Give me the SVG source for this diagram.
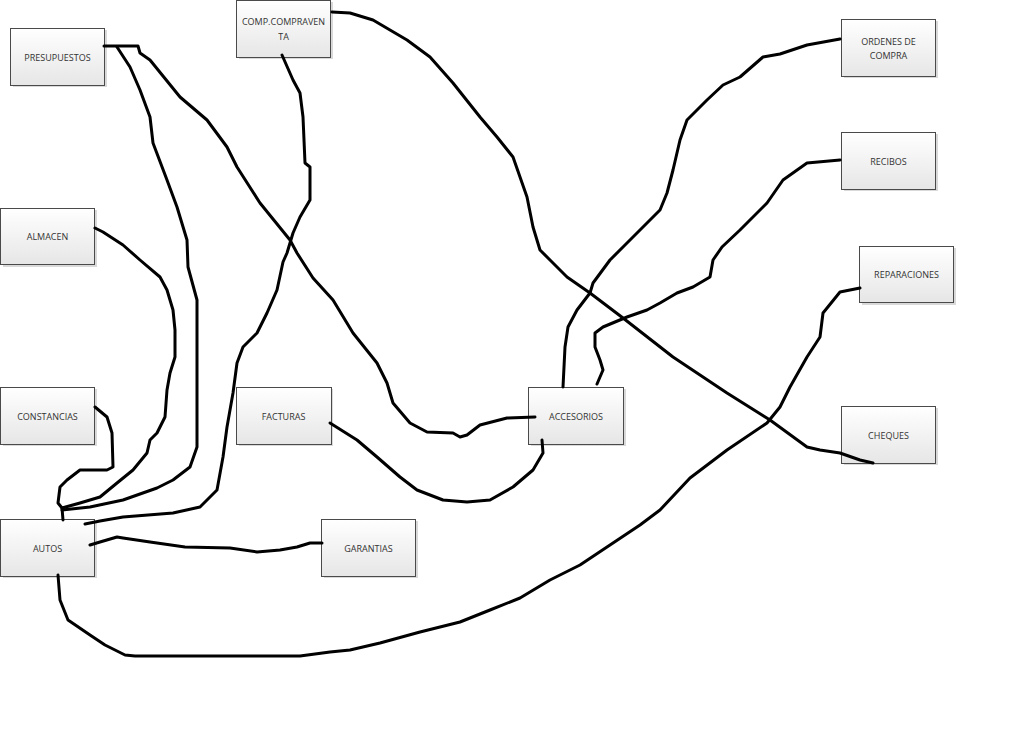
<svg xmlns="http://www.w3.org/2000/svg" width="1028" height="736" viewBox="0 0 1028 736">
<defs>
<linearGradient id="g" x1="0" y1="0" x2="0" y2="1">
<stop offset="0" stop-color="#ffffff"/>
<stop offset="1" stop-color="#e6e6e6"/>
</linearGradient>
<style>
.sh{fill:#d9d9d9}
.bx{fill:url(#g);stroke:#4a4a4a;stroke-width:1}
.t{font-family:"Open Sans","Liberation Sans",sans-serif;font-size:9px;fill:#333;text-anchor:middle;dominant-baseline:central}
.c{fill:none;stroke:#000;stroke-width:3;stroke-linejoin:round;stroke-linecap:round}
</style>
</defs>
<rect width="1028" height="736" fill="#fff"/>
<g id="n-presupuestos"><rect class="sh" x="13" y="30" width="94" height="57"/><rect class="bx" x="10.5" y="28.5" width="94" height="57"/><text class="t" x="57.5" y="57">PRESUPUESTOS</text></g>
<g id="n-comp"><rect class="sh" x="239" y="2" width="94" height="57"/><rect class="bx" x="236.5" y="0.5" width="94" height="57"/><text class="t" x="283.5" y="21">COMP.COMPRAVEN</text><text class="t" x="283.5" y="36">TA</text></g>
<g id="n-ordenes"><rect class="sh" x="844" y="21" width="94" height="57"/><rect class="bx" x="841.5" y="19.5" width="94" height="57"/><text class="t" x="888.5" y="41">ORDENES DE</text><text class="t" x="888.5" y="55">COMPRA</text></g>
<g id="n-recibos"><rect class="sh" x="844" y="134" width="94" height="57"/><rect class="bx" x="841.5" y="132.5" width="94" height="57"/><text class="t" x="888.5" y="161">RECIBOS</text></g>
<g id="n-reparaciones"><rect class="sh" x="862" y="248" width="94" height="57"/><rect class="bx" x="859.5" y="246.5" width="94" height="56"/><text class="t" x="906.5" y="274">REPARACIONES</text></g>
<g id="n-cheques"><rect class="sh" x="844" y="408" width="94" height="57"/><rect class="bx" x="841.5" y="406.5" width="94" height="57"/><text class="t" x="888.5" y="435">CHEQUES</text></g>
<g id="n-almacen"><rect class="sh" x="3" y="210" width="94" height="57"/><rect class="bx" x="0.5" y="208.5" width="94" height="56"/><text class="t" x="47.5" y="236">ALMACEN</text></g>
<g id="n-constancias"><rect class="sh" x="3" y="389" width="94" height="57"/><rect class="bx" x="0.5" y="387.5" width="94" height="57"/><text class="t" x="47.5" y="416">CONSTANCIAS</text></g>
<g id="n-autos"><rect class="sh" x="3" y="521" width="94" height="57"/><rect class="bx" x="0.5" y="519.5" width="94" height="57"/><text class="t" x="47.5" y="548">AUTOS</text></g>
<g id="n-facturas"><rect class="sh" x="239" y="389" width="94" height="57"/><rect class="bx" x="236.5" y="387.5" width="95" height="57"/><text class="t" x="283.5" y="416">FACTURAS</text></g>
<g id="n-garantias"><rect class="sh" x="324" y="521" width="94" height="57"/><rect class="bx" x="321.5" y="519.5" width="94" height="57"/><text class="t" x="368.5" y="548">GARANTIAS</text></g>
<g id="n-accesorios"><rect class="sh" x="531" y="389" width="95" height="57"/><rect class="bx" x="528.5" y="387.5" width="95" height="57"/><text class="t" x="576" y="416">ACCESORIOS</text></g>
<g id="connectors">
<path class="c" d="M104,46 L138,46 L140,53 L150,60 L180,97 L207,120 L227,147 L237,167 L260,203 L290,240 L297,253 L313,278 L333,300 L353,333 L377,363 L387,383 L393,403 L410,423 L427,432 L453,433 L460,437 L467,435 L480,425 L507,418 L535,417"/>
<path class="c" d="M117,47 L130,67 L140,90 L150,117 L153,143 L167,180 L177,207 L187,240 L188,267 L197,300 L197,447 L190,467 L173,480 L157,488 L123,500 L90,507 L62,510"/>
<path class="c" d="M282,55 L293,80 L300,93 L303,117 L305,163 L310,167 L310,200 L300,217 L293,233 L287,253 L283,262 L277,290 L267,313 L257,333 L243,347 L237,363 L233,393 L227,427 L223,457 L217,490 L200,507 L173,513 L123,517 L100,521 L85,524"/>
<path class="c" d="M95,228 L103,232 L123,245 L140,260 L160,277 L167,290 L173,310 L175,330 L175,357 L170,373 L167,390 L165,417 L157,433 L150,440 L147,453 L133,470 L117,483 L100,497 L80,503 L62,508"/>
<path class="c" d="M95,407 L107,417 L112,433 L113,467 L107,470 L80,470 L67,480 L60,487 L58,503 L62,508 L63,520"/>
<path class="c" d="M90,545 L100,542 L117,537 L123,538 L150,542 L185,547 L230,548 L257,552 L280,550 L297,547 L310,543 L322,543"/>
<path class="c" d="M58,575 L60,600 L68,620 L90,635 L105,645 L125,655 L135,656 L300,656 L330,652 L350,650 L380,643 L420,632 L460,622 L490,610 L520,598 L550,580 L580,565 L610,545 L640,525 L660,510 L690,478 L727,450 L767,423 L780,407 L790,387 L807,357 L820,337 L823,313 L840,292 L860,288"/>
<path class="c" d="M330,423 L357,440 L377,457 L400,477 L417,490 L443,500 L467,502 L490,500 L513,487 L533,470 L543,453 L542,440"/>
<path class="c" d="M332,12 L350,13 L373,20 L407,40 L430,57 L453,83 L480,117 L497,137 L513,157 L527,197 L533,227 L540,250 L550,260 L567,277 L590,293 L623,318 L673,357 L727,393 L770,420 L807,447 L820,450 L840,453 L860,460 L873,463"/>
<path class="c" d="M563,387 L565,347 L568,327 L577,310 L590,293 L593,283 L610,260 L623,247 L640,230 L660,210 L667,193 L673,170 L680,140 L687,120 L707,100 L723,85 L740,77 L763,57 L780,54 L807,45 L840,39"/>
<path class="c" d="M597,384 L603,370 L600,360 L595,347 L595,333 L603,327 L627,317 L647,310 L660,303 L677,293 L693,287 L710,277 L713,260 L722,247 L740,230 L767,203 L783,180 L807,163 L840,160"/>
</g>
</svg>
